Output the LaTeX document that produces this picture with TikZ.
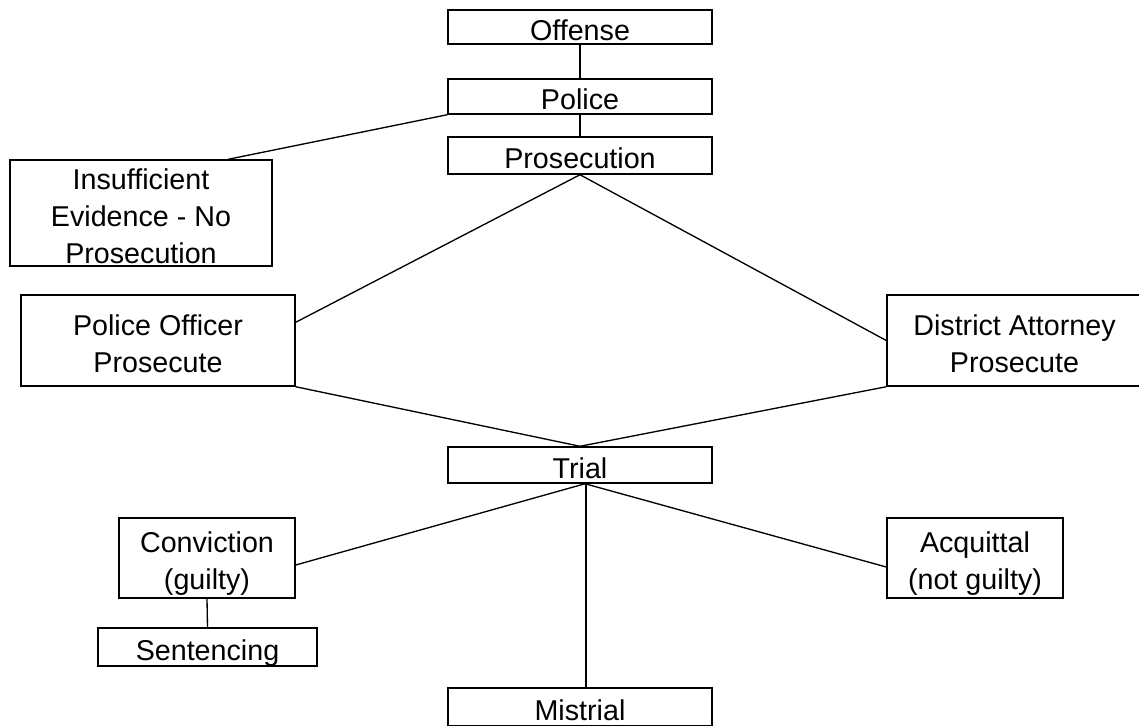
\documentclass[tikz,border=0pt]{standalone}
\usepackage{fontspec}
\setmainfont{Liberation Sans}
\usetikzlibrary{calc}
\newcommand\mylines[1]{\begin{tabular}[t]{@{}c@{}}#1\end{tabular}}
\begin{document}
\begin{tikzpicture}[x=0.75pt,y=-0.75pt,
  box/.style={draw=black, line width=1.1pt, inner sep=0pt, fill=white,
    font=\fontsize{21.5}{27.75}\selectfont, minimum width=198pt},
  one/.style={text height=20pt, text depth=0pt},
  two/.style={text height=0pt, text depth=7.75pt},
  three/.style={text height=0pt, text depth=35.5pt},
  link/.style={draw=black, line width=1pt}]
\useasboundingbox (0,0) rectangle (1139,725);
\fill[white] (0,0) rectangle (1139,725);

\node[box,one,minimum height=25.5pt] (off) at (580,27) {Offense};
\node[box,one,minimum height=26.25pt] (pol) at (580,96.5) {Police};
\node[box,one,minimum height=27.75pt] (pros) at (580,155.5) {Prosecution};
\node[box,three,minimum width=196.5pt,minimum height=79.5pt] (ins) at (141,213) {\mylines{Insufficient\\Evidence - No\\Prosecution}};
\node[box,two,minimum width=205.5pt,minimum height=68.25pt] (po) at (158,340.5) {\mylines{Police Officer\\Prosecute}};
\node[box,two,minimum width=191.25pt,minimum height=68.25pt] (da) at (1014.5,340.5) {\mylines{District Attorney\\Prosecute}};
\node[box,one,minimum height=27pt] (trial) at (580,465) {Trial};
\node[box,two,minimum width=132pt,minimum height=60pt] (conv) at (207,558) {\mylines{Conviction\\(guilty)}};
\node[box,two,minimum width=132pt,minimum height=60pt] (acq) at (975,558) {\mylines{Acquittal\\(not guilty)}};
\node[box,one,minimum width=164.25pt,minimum height=28.5pt] (sent) at (207.5,647) {Sentencing};
\node[box,one,minimum height=28.5pt] (mis) at (580,707) {Mistrial};

\draw[link] (off) -- (pol);
\draw[link] (pol) -- (pros);
\draw[link] (pol.south west) -- ($(ins.north west)+(219,0)$);
\draw[link] (pros.south) -- ($(po.north east)+(0,28)$);
\draw[link] (pros.south) -- (da.west);
\draw[link] (po.south east) -- (trial.north);
\draw[link] (da.south west) -- (trial.north);
\draw[link] ($(trial.south)+(5,0)$) -- ($(conv.east)+(0,7)$);
\draw[link] ($(trial.south)+(5,0)$) -- ($(acq.west)+(0,9)$);
\draw[link] ($(trial.south)+(6,0)$) -- ($(mis.north)+(6,0)$);
\draw[link] (conv.south) -- (sent.north);
\end{tikzpicture}
\end{document}
